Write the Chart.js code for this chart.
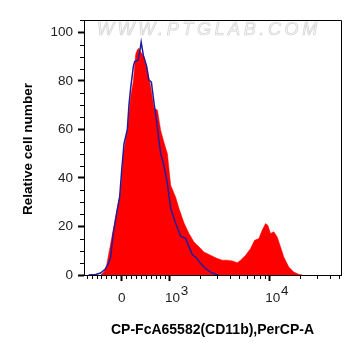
<!DOCTYPE html>
<html><head><meta charset="utf-8">
<script src="https://cdn.jsdelivr.net/npm/chart.js@4.4.1/dist/chart.umd.min.js"></script>
<style>html,body{margin:0;padding:0;background:#fff}canvas{display:block}</style>
</head><body>
<canvas id="c" width="361" height="356"></canvas>
<script>
// ---- data (fluorescence intensity, % of max) ----
const redX = [-416,-348,-294,-213,-113,-14,40,119,185,239,286,320,352,387,454,525,594,664,736,808,875,958,
  1030,1156,1247,1296,1398,1568,1759,1973,2213,2580,3010,3377,3788,4248,4764,5138,5765,6465,7086,7822,8457,
  9124,9616,10233,11037,11934,12874,13888,15574,17474,19594,21330];
const redY = [0,1.2,4,13,24,35,50,60,73.5,80,91,92.8,93.5,92,90,84.5,77.6,68.7,68,59.7,55,50,
  37,32,27.4,25.4,21.5,17.1,13.6,11.6,9.5,8.1,6.8,6.1,6.1,5.8,5.1,6.1,8.1,10.9,14.3,15,18.5,
  21.2,20.5,17.1,17.8,15.7,11.6,7.4,3.3,1.2,0.3,0];
const blueX = [-666,-518,-416,-314,-253,-213,-163,-80,-34,6,52,119,151,185,239,266,332,367,397,442,510,552,
  608,664,736,771,808,868,958,1030,1156,1296,1454,1568,1696,1829,2051,2301,2580,2894,3101];
const blueY = [0,0.2,0.8,2.6,5,7.4,17,27,32,43,54,60,70,77,86,88,88.5,92,96,90.5,86,80.5,
  79.5,71,61,55,50,46,37.7,27.4,21.2,16,15,11.6,8.3,7.4,4.7,2.6,1.2,0.3,0];
const yTickValues = [0,20,40,60,80,100];
const xTickValues = [0,1000,10000];
const xTickLabels = [['0',''],['10','3'],['10','4']];
const xMinorValues = [-700,-600,-500,-400,-300,-200,-100,100,200,300,400,500,600,700,800,900,
  2000,3000,4000,5000,6000,7000,8000,9000,20000,30000,40000,50000];
const yMinorValues = [5,10,15,25,30,35,45,50,55,65,70,75,85,90,95,105];
const xRange = [-765, 51760];
const yRange = [0, 105.1];
const xTitle = 'CP-FcA65582(CD11b),PerCP-A';
const yTitle = 'Relative cell number';
const watermark = 'WWW.PTGLAB.COM';

// biexponential-like display transform
function D(v){ return v <= 1000 ? 87*Math.asinh(v/1730) : 48 + 100*Math.log10(v/1000); }

const FONT = "'Liberation Sans', Arial, sans-serif";

const decor = {
  id:'decor',
  beforeDatasetsDraw(chart){
    const ctx = chart.ctx;
    ctx.save();
    ctx.font = 'italic 18px ' + FONT;
    ctx.letterSpacing = '3.6px';
    ctx.textBaseline = 'alphabetic';
    ctx.textAlign = 'left';
    ctx.fillStyle = '#fafafa';
    ctx.strokeStyle = '#d2d2d2';
    ctx.lineWidth = 0.7;
    ctx.fillText(watermark, 97, 35);
    ctx.strokeText(watermark, 97, 35);
    ctx.restore();
  },
  afterDraw(chart){
    const ctx = chart.ctx, a = chart.chartArea;
    const xs = chart.scales.x, ys = chart.scales.y;
    ctx.save();
    // frame
    ctx.strokeStyle = '#000'; ctx.lineWidth = 1;
    ctx.beginPath();
    ctx.moveTo(a.left, a.top + 0.5); ctx.lineTo(a.right + 0.5, a.top + 0.5);
    ctx.lineTo(a.right + 0.5, a.bottom);
    ctx.stroke();
    // minor ticks
    ctx.beginPath();
    xMinorValues.forEach(v => {
      const p = Math.round(xs.getPixelForValue(D(v))) + 0.5;
      if (p < a.left || p > a.right) return;
      ctx.moveTo(p, a.bottom); ctx.lineTo(p, a.bottom + 4);
    });
    yMinorValues.forEach(v => {
      const p = Math.round(ys.getPixelForValue(v)) + 0.5;
      if (p < a.top) return;
      ctx.moveTo(a.left, p); ctx.lineTo(a.left - 4, p);
    });
    ctx.stroke();
    // x tick labels with superscripts
    ctx.fillStyle = '#222';
    ctx.font = '13.5px ' + FONT;
    ctx.textBaseline = 'alphabetic';
    xTickValues.forEach((v, i) => {
      const p = xs.getPixelForValue(D(v));
      const [base, sup] = xTickLabels[i];
      if (!sup) { ctx.textAlign = 'center'; ctx.fillText(base, p + 0.4, 301.5); return; }
      ctx.textAlign = 'left';
      const x0 = p - 4.3;
      ctx.fillText(base, x0, 301.5);
      const w = ctx.measureText(base).width;
      ctx.fillText(sup, x0 + w + 0.8, 294.6);
    });
    // axis titles
    ctx.fillStyle = '#000';
    ctx.font = 'bold 14px ' + FONT;
    ctx.textAlign = 'center';
    ctx.fillText(xTitle, (a.left + a.right) / 2, 333.5);
    ctx.save();
    ctx.translate(32, 149);
    ctx.rotate(-Math.PI / 2);
    ctx.font = 'bold 13.6px ' + FONT;
    ctx.fillText(yTitle, 0, 0);
    ctx.restore();
    ctx.restore();
  }
};

new Chart(document.getElementById('c'), {
  type: 'line',
  data: {
    datasets: [
      { label: 'Control', data: blueX.map((v, i) => ({x: D(v), y: blueY[i]})),
        borderColor: '#1f1f9e', borderWidth: 1.5, fill: false, pointRadius: 0, tension: 0 },
      { label: 'CD11b', data: redX.map((v, i) => ({x: D(v), y: redY[i]})),
        borderColor: '#ff0000', borderWidth: 0.5, backgroundColor: '#ff0000', fill: 'origin',
        pointRadius: 0, tension: 0 }
    ]
  },
  options: {
    responsive: false, animation: false, devicePixelRatio: 1,
    layout: { padding: { top: 20, right: 20, left: 0, bottom: 0 } },
    plugins: { legend: { display: false }, tooltip: { enabled: false } },
    scales: {
      x: {
        type: 'linear', min: D(xRange[0]), max: D(xRange[1]),
        afterBuildTicks: s => { s.ticks = xTickValues.map(v => ({ value: D(v) })); },
        afterFit: s => { s.height = 81; },
        ticks: { display: false },
        grid: { display: true, drawOnChartArea: false, drawTicks: true, tickLength: 6, tickWidth: 2, tickColor: '#000' },
        border: { display: true, color: '#000', width: 1 }
      },
      y: {
        type: 'linear', min: yRange[0], max: yRange[1],
        afterBuildTicks: s => { s.ticks = yTickValues.map(v => ({ value: v })); },
        afterFit: s => { s.width = 84; },
        ticks: { padding: 5, color: '#222', font: { family: FONT, size: 13.5 } },
        grid: { display: true, drawOnChartArea: false, drawTicks: true, tickLength: 6, tickWidth: 2, tickColor: '#000' },
        border: { display: true, color: '#000', width: 1 }
      }
    }
  },
  plugins: [decor]
});
</script>
</body></html>
